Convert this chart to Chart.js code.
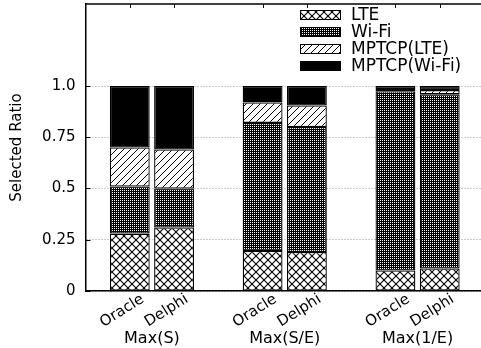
<!DOCTYPE html>
<html>
<head>
<meta charset="utf-8">
<script src="https://cdn.jsdelivr.net/npm/chart.js@4"></script>
<style>
  html, body { margin: 0; padding: 0; background: #fff; overflow: hidden; }
  #wrap { width: 484px; height: 348px; position: relative; }
</style>
</head>
<body>
<div id="wrap"><canvas id="c"></canvas></div>
<script>
// ── data ──────────────────────────────────────────────
const groups = ['Max(S)', 'Max(S/E)', 'Max(1/E)'];
const methods = ['Oracle', 'Delphi'];
// one value per bar: Oracle/Delphi for each group, in order
const lte    = [0.28, 0.31, 0.195, 0.19, 0.10, 0.11];
const wifi   = [0.23, 0.19, 0.625, 0.61, 0.875, 0.85];
const mpLte  = [0.19, 0.19, 0.10, 0.105, 0.01, 0.02];
const mpWifi = [0.30, 0.31, 0.08, 0.095, 0.015, 0.02];
const seriesNames = ['LTE', 'Wi-Fi', 'MPTCP(LTE)', 'MPTCP(Wi-Fi)'];
const yTicks = [0, 0.25, 0.5, 0.75, 1.0];
const yTickLabels = ['0', '0.25', '0.5', '0.75', '1.0'];

// slots: empty slot before each group + one at the end
const labels = [''];
const barSlot = [];
groups.forEach(() => {
  methods.forEach((m) => { barSlot.push(labels.length); labels.push(m); });
  labels.push('');
});
const toSlots = (arr) => {
  const out = labels.map(() => null);
  arr.forEach((v, i) => { out[barSlot[i]] = v; });
  return out;
};

// ── patterns ──────────────────────────────────────────
const cv = document.getElementById('c');
const ctx0 = cv.getContext('2d');
function tile(size, draw) {
  const t = document.createElement('canvas');
  t.width = t.height = size;
  const g = t.getContext('2d');
  g.fillStyle = '#fff'; g.fillRect(0, 0, size, size);
  draw(g, size);
  return ctx0.createPattern(t, 'repeat');
}
const crossPat = tile(8, (g, s) => {
  g.strokeStyle = '#000'; g.lineWidth = 1.1;
  for (const o of [-s, 0, s]) {
    g.beginPath(); g.moveTo(o, 0); g.lineTo(o + s, s); g.stroke();
    g.beginPath(); g.moveTo(o + s, 0); g.lineTo(o, s); g.stroke();
  }
});
// dense dots: black with a white pixel every 2px
const densePat = tile(2, (g, s) => {
  g.fillStyle = '#000'; g.fillRect(0, 0, s, s);
  g.fillStyle = '#fff'; g.fillRect(0, 0, 1, 1);
});
const slashPat = tile(7, (g, s) => {
  g.strokeStyle = '#000'; g.lineWidth = 1;
  for (const o of [-s, 0, s]) {
    g.beginPath(); g.moveTo(o, s); g.lineTo(o + s, 0); g.stroke();
  }
});
const fills = [crossPat, densePat, slashPat, '#000'];
const FONT = "'DejaVu Sans', sans-serif";

// ── extras: frame, ticks, labels, legend ─────────────
const extras = {
  id: 'extras',
  afterDraw(chart) {
    const { ctx, chartArea: a, scales: { x, y } } = chart;
    ctx.save();
    ctx.strokeStyle = '#000'; ctx.lineWidth = 1.5;
    ctx.beginPath(); ctx.moveTo(a.left, a.top); ctx.lineTo(a.right, a.top); ctx.stroke();
    ctx.lineWidth = 1;
    yTicks.forEach((v) => {
      const py = Math.round(y.getPixelForValue(v)) + 0.5;
      ctx.beginPath(); ctx.moveTo(a.left, py); ctx.lineTo(a.left + 5, py); ctx.stroke();
    });
    barSlot.forEach((s) => {
      const px = Math.round(x.getPixelForValue(s)) + 0.5;
      ctx.beginPath(); ctx.moveTo(px, a.top); ctx.lineTo(px, a.top + 4); ctx.stroke();
    });
    // rotated method labels
    ctx.fillStyle = '#000';
    ctx.font = '15px ' + FONT;
    ctx.textAlign = 'right'; ctx.textBaseline = 'middle';
    barSlot.forEach((s) => {
      const px = x.getPixelForValue(s);
      ctx.save();
      ctx.translate(px + 13, a.bottom + 7);
      ctx.rotate(-32 * Math.PI / 180);
      ctx.fillText(labels[s], 0, 0);
      ctx.restore();
    });
    // group labels
    ctx.font = '16px ' + FONT;
    ctx.textAlign = 'center';
    groups.forEach((g, gi) => {
      const p0 = x.getPixelForValue(barSlot[gi * 2]);
      const p1 = x.getPixelForValue(barSlot[gi * 2 + 1]);
      ctx.fillText(g, (p0 + p1) / 2, a.bottom + 48);
    });
    // legend
    ctx.font = '17px ' + FONT;
    ctx.textAlign = 'left';
    chart.data.datasets.forEach((ds, i) => {
      const cy = 15 + i * 17;
      ctx.fillStyle = ds.backgroundColor;
      ctx.fillRect(300, cy - 5, 41, 10);
      ctx.strokeStyle = '#000'; ctx.lineWidth = 1;
      ctx.strokeRect(300.5, cy - 4.5, 40, 9);
      ctx.fillStyle = '#000';
      ctx.fillText(ds.label, 351, cy + 1);
    });
    ctx.restore();
  },
};

const series = [lte, wifi, mpLte, mpWifi];
new Chart(cv, {
  type: 'bar',
  data: {
    labels,
    datasets: series.map((arr, i) => ({
      label: seriesNames[i],
      data: toSlots(arr),
      backgroundColor: fills[i],
      borderColor: '#000',
      borderWidth: 1.3,
      borderSkipped: false,
      categoryPercentage: 1,
      barPercentage: 0.9,
    })),
  },
  options: {
    responsive: true, maintainAspectRatio: false, animation: false,
    layout: { padding: { top: 4, bottom: 57, right: 0, left: 0 } },
    plugins: { legend: { display: false }, tooltip: { enabled: false } },
    scales: {
      x: {
        stacked: true, offset: false,
        grid: { display: false, drawTicks: false },
        border: { display: true, color: '#000', width: 1.5 },
        ticks: { display: false },
        afterFit: (s) => { s.height = 0; s.paddingLeft = 0; s.paddingRight = 0; },
      },
      y: {
        stacked: true, min: 0, max: 1.4,
        afterBuildTicks: (s) => { s.ticks = yTicks.map((v) => ({ value: v })); },
        afterFit: (s) => { s.width = 85.5; s.paddingTop = 0; s.paddingBottom = 0; },
        grid: { color: '#999', lineWidth: 1, drawTicks: false },
        border: { display: true, color: '#000', width: 1.5, dash: [1, 2] },
        ticks: {
          padding: 10, color: '#000', font: { family: FONT, size: 15 },
          callback: (v, i) => yTickLabels[i],
        },
        title: {
          display: true, text: 'Selected Ratio', color: '#000',
          font: { family: FONT, size: 15 }, padding: { top: 8, bottom: 0 },
        },
      },
    },
  },
  plugins: [extras],
});
</script>
</body>
</html>
